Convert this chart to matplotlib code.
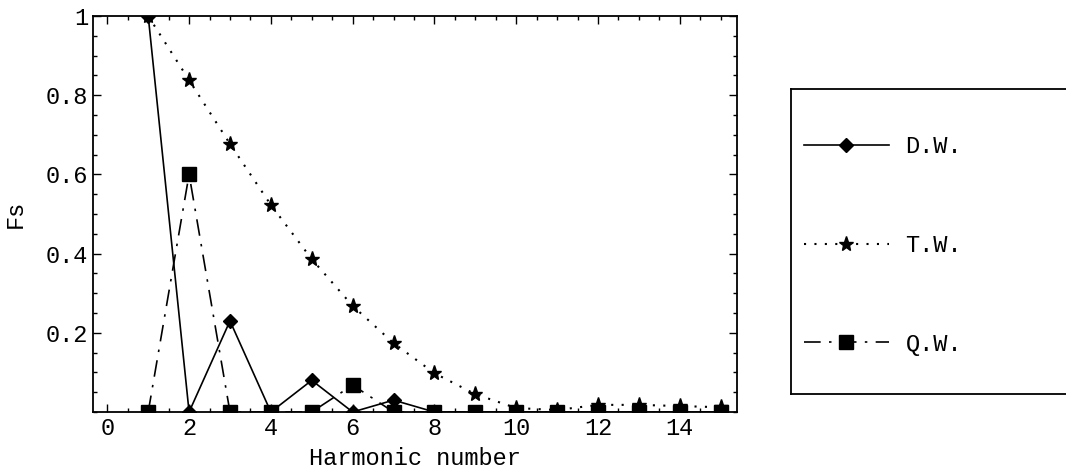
import numpy as np
import matplotlib
matplotlib.use("Agg")
import matplotlib.pyplot as plt
from matplotlib.ticker import MultipleLocator

plt.rcParams['font.family'] = ['Liberation Mono', 'DejaVu Sans Mono']

harmonic = np.arange(1, 16)
dw = [1.0, 0.0, 0.23, 0.0, 0.08, 0.0, 0.03, 0.0, 0.0, 0.0, 0.0, 0.0, 0.0, 0.0, 0.0]
tw = [1.0, 0.838, 0.677, 0.523, 0.386, 0.268, 0.174, 0.098, 0.045, 0.01,
      0.005, 0.018, 0.018, 0.015, 0.012]
qw = [0.0, 0.6, 0.0, 0.0, 0.0, 0.068, 0.0, 0.0, 0.0, 0.0, 0.0, 0.0, 0.0, 0.0, 0.0]

yticks = [0.2, 0.4, 0.6, 0.8, 1.0]
ylabels = ['0.2', '0.4', '0.6', '0.8', '1']
xticks = [0, 2, 4, 6, 8, 10, 12, 14]

fig = plt.figure(figsize=(10.66, 4.73), dpi=100)
ax = fig.add_axes([93 / 1066, 61 / 473, 644 / 1066, 396 / 473])

ax.plot(harmonic, dw, color='black', lw=1.2, ls='-', marker='D', ms=7, label='D.W.')
ax.plot(harmonic, tw, color='black', lw=1.5, ls=(0, (1, 4)), marker='*', ms=11, label='T.W.')
ax.plot(harmonic, qw, color='black', lw=1.2, ls=(0, (10, 5, 1.5, 5)), marker='s', ms=9.5, label='Q.W.')

ax.set_xlim(-0.35, 15.4)
ax.set_ylim(0, 1)
ax.set_xticks(xticks)
ax.set_yticks(yticks)
ax.set_yticklabels(ylabels)
ax.xaxis.set_minor_locator(MultipleLocator(0.5))
ax.yaxis.set_minor_locator(MultipleLocator(0.05))
ax.tick_params(which='both', direction='in', top=True, right=True, labelsize=17, width=1)
ax.tick_params(which='major', length=6)
ax.tick_params(which='minor', length=3)
for s in ax.spines.values():
    s.set_linewidth(1.3)
ax.set_xlabel('Harmonic number', fontsize=17, labelpad=5)
ax.set_ylabel('Fs', fontsize=17, labelpad=14)

# legend box, running off the right edge as in the original
lax = fig.add_axes([791 / 1066, 79 / 473, 0.5, 305 / 473])
lax.set_xticks([])
lax.set_yticks([])
for s in lax.spines.values():
    s.set_linewidth(1.3)
handles, labels = ax.get_legend_handles_labels()
lax.legend(handles, labels, loc='upper left', bbox_to_anchor=(-0.02, 0.925),
           frameon=False, fontsize=17, handlelength=3.6, handletextpad=0.7,
           labelspacing=3.2, borderaxespad=0.6)

fig.savefig('out.png', dpi=100)
